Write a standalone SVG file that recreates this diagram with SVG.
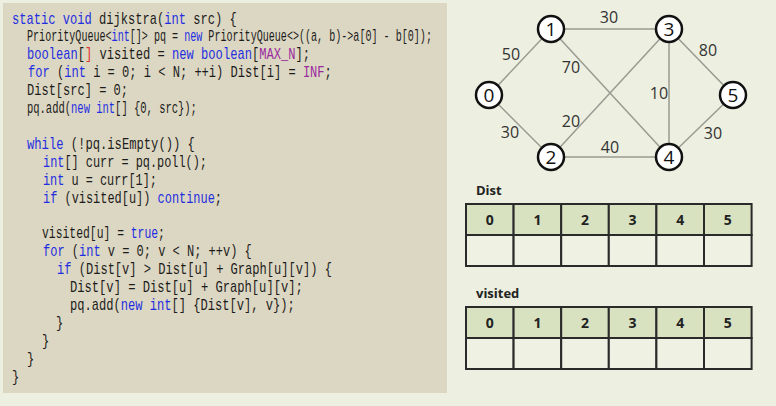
<svg xmlns="http://www.w3.org/2000/svg" width="776" height="406" viewBox="0 0 776 406">
<style>
.code text{font-family:"Liberation Mono","DejaVu Sans Mono",monospace;font-size:16px;fill:#1c1c1c;}
.k{fill:#1f2ee0;}
.c{fill:#9a2aa0;}
.edge{stroke:#9a9a92;stroke-width:1.5;fill:none;}
.node circle{fill:#fff;stroke:#111;stroke-width:2.5;}
.node text{font-family:"Open Sans","Liberation Sans",sans-serif;font-size:19px;fill:#111;text-anchor:middle;}
.w{font-family:"Open Sans","Liberation Sans",sans-serif;font-size:16px;fill:#333;text-anchor:middle;}
.lbl{font-family:"Open Sans","Liberation Sans",sans-serif;font-size:13px;font-weight:bold;fill:#222;}
.hd{fill:#d8e2c0;stroke:#2a2a2a;stroke-width:2;}
.bd{fill:#eff1e3;stroke:#2a2a2a;stroke-width:2;}
.ht{font-family:"Open Sans","Liberation Sans",sans-serif;font-size:14px;font-weight:bold;fill:#222;text-anchor:middle;}
</style>
<rect x="0" y="0" width="776" height="406" fill="#edefe0"/>
<rect x="3" y="3" width="444" height="390" fill="#dcd7c2"/>
<g id="code" class="code">
<text transform="translate(12,23.5) scale(0.756,1)"><tspan class="k">static void</tspan> dijkstra(<tspan class="k">int</tspan> src) {</text>
<text transform="translate(27,41.4) scale(0.630,1)">PriorityQueue&lt;<tspan class="k">int</tspan>[]&gt; pq = <tspan class="k">new</tspan> PriorityQueue&lt;&gt;((a, b)-&gt;a[0] - b[0]);</text>
<text transform="translate(27,59.3) scale(0.756,1)"><tspan class="k">boolean</tspan>[<tspan fill="#e03030">]</tspan> visited = <tspan class="k">new boolean</tspan>[<tspan class="c">MAX_N</tspan>];</text>
<text transform="translate(28,77.2) scale(0.754,1)"><tspan class="k">for</tspan> (<tspan class="k">int</tspan> i = 0; i &lt; N; ++i) Dist[i] = <tspan class="c">INF</tspan>;</text>
<text transform="translate(27,95.1) scale(0.752,1)">Dist[src] = 0;</text>
<text transform="translate(27,113) scale(0.656,1)">pq.add(<tspan class="k">new int</tspan>[] {0, src});</text>
<text transform="translate(27,148.8) scale(0.761,1)"><tspan class="k">while</tspan> (!pq.isEmpty()) {</text>
<text transform="translate(43,166.7) scale(0.743,1)"><tspan class="k">int</tspan>[] curr = pq.poll();</text>
<text transform="translate(43,184.6) scale(0.742,1)"><tspan class="k">int</tspan> u = curr[1];</text>
<text transform="translate(43,202.5) scale(0.746,1)"><tspan class="k">if</tspan> (visited[u]) <tspan class="k">continue</tspan>;</text>
<text transform="translate(42,238.3) scale(0.712,1)">visited[u] = <tspan class="k">true</tspan>;</text>
<text transform="translate(43,256.2) scale(0.751,1)"><tspan class="k">for</tspan> (<tspan class="k">int</tspan> v = 0; v &lt; N; ++v) {</text>
<text transform="translate(57,274.1) scale(0.754,1)"><tspan class="k">if</tspan> (Dist[v] &gt; Dist[u] + Graph[u][v]) {</text>
<text transform="translate(70,292) scale(0.758,1)">Dist[v] = Dist[u] + Graph[u][v];</text>
<text transform="translate(70,309.9) scale(0.756,1)">pq.add(<tspan class="k">new int</tspan>[] {Dist[v], v});</text>
<text transform="translate(56,327.8) scale(0.755,1)">}</text>
<text transform="translate(42,345.7) scale(0.755,1)">}</text>
<text transform="translate(27,363.6) scale(0.755,1)">}</text>
<text transform="translate(12,381.5) scale(0.755,1)">}</text>
</g>
<g id="connectors">
<line class="edge" x1="489" y1="95" x2="551" y2="29"/>
<line class="edge" x1="489" y1="95" x2="551" y2="157"/>
<line class="edge" x1="551" y1="29" x2="669" y2="29"/>
<line class="edge" x1="551" y1="29" x2="669" y2="157"/>
<line class="edge" x1="551" y1="157" x2="669" y2="29"/>
<line class="edge" x1="551" y1="157" x2="669" y2="157"/>
<line class="edge" x1="669" y1="29" x2="669" y2="157"/>
<line class="edge" x1="669" y1="29" x2="733" y2="95"/>
<line class="edge" x1="669" y1="157" x2="733" y2="95"/>
<text class="w" x="609" y="23">30</text>
<text class="w" x="511" y="60">50</text>
<text class="w" x="571" y="73">70</text>
<text class="w" x="708" y="56">80</text>
<text class="w" x="659" y="99">10</text>
<text class="w" x="571" y="127">20</text>
<text class="w" x="510" y="138">30</text>
<text class="w" x="610" y="153">40</text>
<text class="w" x="713" y="139">30</text>
</g>
<g id="node0" class="node"><circle cx="489" cy="95" r="13"/><text x="489" y="102">0</text></g>
<g id="node1" class="node"><circle cx="551" cy="29" r="13"/><text x="551" y="36">1</text></g>
<g id="node2" class="node"><circle cx="551" cy="157" r="13"/><text x="551" y="164">2</text></g>
<g id="node3" class="node"><circle cx="669" cy="29" r="13"/><text x="669" y="36">3</text></g>
<g id="node4" class="node"><circle cx="669" cy="157" r="13"/><text x="669" y="164">4</text></g>
<g id="node5" class="node"><circle cx="733" cy="95" r="13"/><text x="733" y="102">5</text></g>
<g id="dist-table">
<text class="lbl" x="476" y="195">Dist</text>
<rect class="hd" x="466" y="204" width="47.6" height="31"/>
<rect class="hd" x="513.6" y="204" width="47.6" height="31"/>
<rect class="hd" x="561.2" y="204" width="47.6" height="31"/>
<rect class="hd" x="608.8" y="204" width="47.6" height="31"/>
<rect class="hd" x="656.4" y="204" width="47.6" height="31"/>
<rect class="hd" x="704" y="204" width="47.6" height="31"/>
<rect class="bd" x="466" y="235" width="47.6" height="31"/>
<rect class="bd" x="513.6" y="235" width="47.6" height="31"/>
<rect class="bd" x="561.2" y="235" width="47.6" height="31"/>
<rect class="bd" x="608.8" y="235" width="47.6" height="31"/>
<rect class="bd" x="656.4" y="235" width="47.6" height="31"/>
<rect class="bd" x="704" y="235" width="47.6" height="31"/>
<text class="ht" x="489.8" y="224.5">0</text>
<text class="ht" x="537.4" y="224.5">1</text>
<text class="ht" x="585" y="224.5">2</text>
<text class="ht" x="632.6" y="224.5">3</text>
<text class="ht" x="680.2" y="224.5">4</text>
<text class="ht" x="727.8" y="224.5">5</text>
</g>
<g id="visited-table">
<text class="lbl" x="476" y="298">visited</text>
<rect class="hd" x="466" y="307" width="47.6" height="31"/>
<rect class="hd" x="513.6" y="307" width="47.6" height="31"/>
<rect class="hd" x="561.2" y="307" width="47.6" height="31"/>
<rect class="hd" x="608.8" y="307" width="47.6" height="31"/>
<rect class="hd" x="656.4" y="307" width="47.6" height="31"/>
<rect class="hd" x="704" y="307" width="47.6" height="31"/>
<rect class="bd" x="466" y="338" width="47.6" height="31"/>
<rect class="bd" x="513.6" y="338" width="47.6" height="31"/>
<rect class="bd" x="561.2" y="338" width="47.6" height="31"/>
<rect class="bd" x="608.8" y="338" width="47.6" height="31"/>
<rect class="bd" x="656.4" y="338" width="47.6" height="31"/>
<rect class="bd" x="704" y="338" width="47.6" height="31"/>
<text class="ht" x="489.8" y="327.5">0</text>
<text class="ht" x="537.4" y="327.5">1</text>
<text class="ht" x="585" y="327.5">2</text>
<text class="ht" x="632.6" y="327.5">3</text>
<text class="ht" x="680.2" y="327.5">4</text>
<text class="ht" x="727.8" y="327.5">5</text>
</g>
</svg>
